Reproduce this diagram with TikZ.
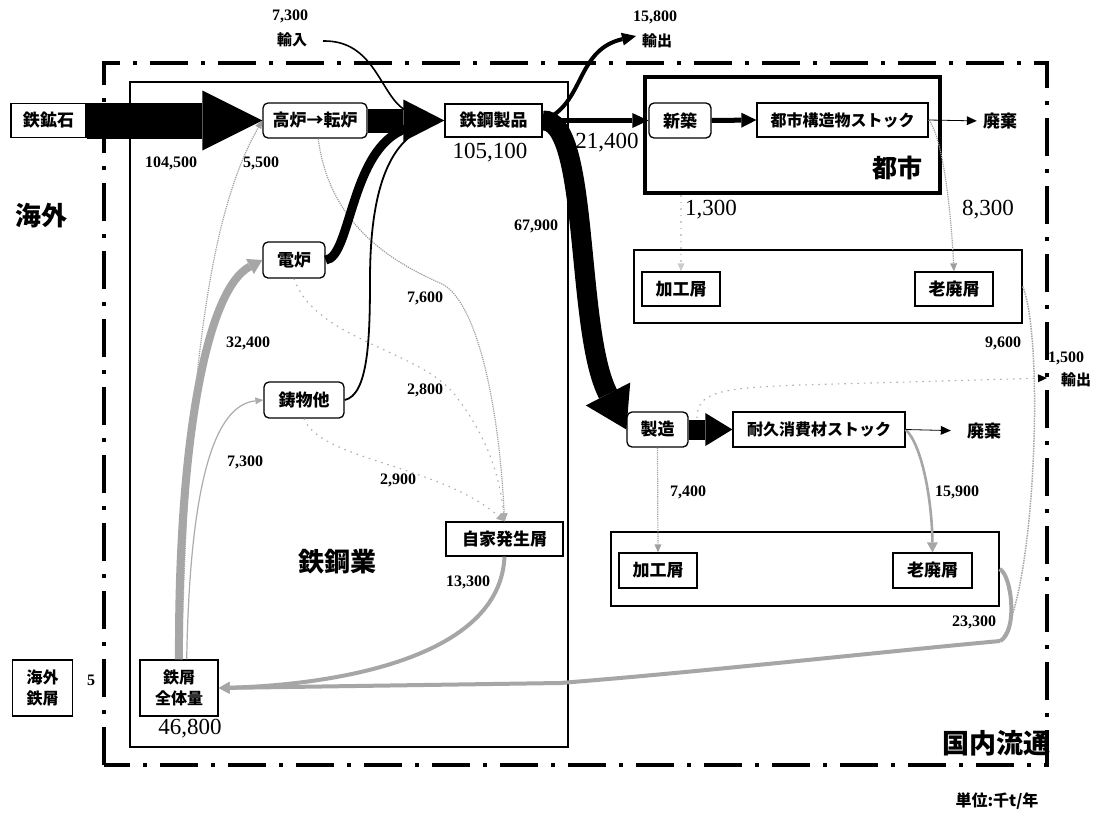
\documentclass[tikz,border=0pt]{standalone}
\usepackage{fontspec}
\setmainfont{Liberation Serif}
\newfontfamily\jp{Noto Sans CJK JP}
\usetikzlibrary{arrows.meta}
\begin{document}
\begin{tikzpicture}[x=1pt,y=-1pt,
  jpf/.style={font={\jp\bfseries\fontsize{#1}{#1}\selectfont}},
  box/.style={draw, line width=1.3pt, inner sep=0pt, jpf=17},
  rbox/.style={box, rounded corners=5pt},
  cont/.style={draw, line width=1.3pt, inner sep=0pt},
  num/.style={inner sep=0pt, font={\bfseries\fontsize{16}{16}\selectfont}},
  big/.style={inner sep=0pt, font={\fontsize{23}{23}\selectfont}},
  lbl/.style={inner sep=0pt, jpf=#1},
  blk/.style={draw=black, line width=#1},
  gband/.style={draw=gray!70, line width=8pt, -{Triangle[length=14pt,width=17pt,line width=0pt]}},
  gthick/.style={draw=gray!70, line width=4pt, -{Triangle[length=11pt,width=12pt,line width=0pt]}},
  gmid/.style={draw=gray!70, line width=2.6pt, -{Triangle[length=10pt,width=11pt,line width=0pt]}},
  gthin/.style={draw=gray!65, line width=1.2pt, -{Triangle[length=8pt,width=7pt,line width=0pt]}},
  gdot/.style={draw=gray!75, line width=1.2pt, densely dotted, -{Triangle[length=8pt,width=7pt,line width=0pt]}},
  gsparse/.style={draw=gray!65, line width=1.1pt, dash pattern=on 1.5pt off 5pt, -{Triangle[length=8pt,width=7pt,line width=0pt]}},
  frame/.style={draw=black, line width=4pt, dash pattern=on 38pt off 13pt on 4pt off 13pt}
]
\useasboundingbox (0,0) rectangle (1094,814);
\fill[white] (0,0) rectangle (1094,814);

% containers
\node[cont, minimum width=438, minimum height=665] (steel) at (349,414.5) {};
\node[draw, line width=4pt, inner sep=0pt, minimum width=295, minimum height=116] (toshi) at (792.5,135) {};
\node[cont, minimum width=388, minimum height=73] (uc) at (828,286.5) {};
\node[cont, minimum width=388, minimum height=74] (lc) at (805,569) {};

% boxes
\node[box, minimum width=75, minimum height=34] (ore) at (48.5,120.5) {鉄鉱石};
\node[rbox, minimum width=104, minimum height=35] (bf) at (315,120.5) {高炉→転炉};
\node[box, minimum width=97, minimum height=33] (sp) at (493.5,120.5) {鉄鋼製品};
\node[rbox, minimum width=62, minimum height=35] (sc) at (680,120.5) {新築};
\node[box, jpf=16, minimum width=171, minimum height=34] (us) at (842.5,120) {都市構造物ストック};
\node[box, minimum width=78, minimum height=34] (kku) at (681,289) {加工屑};
\node[box, minimum width=78, minimum height=34] (rou) at (954,289) {老廃屑};
\node[rbox, minimum width=62, minimum height=36] (ef) at (294,260) {電炉};
\node[rbox, minimum width=80, minimum height=36] (ci) at (304,400) {鋳物他};
\node[rbox, minimum width=61, minimum height=35] (mf) at (657.5,429.5) {製造};
\node[box, jpf=16, minimum width=172, minimum height=35] (dc) at (819,429.5) {耐久消費材ストック};
\node[box, minimum width=117, minimum height=34] (jika) at (504.5,539) {自家発生屑};
\node[box, minimum width=78, minimum height=35] (kkl) at (658,570.5) {加工屑};
\node[box, minimum width=79, minimum height=35] (rol) at (932.5,570.5) {老廃屑};
\node[box, minimum width=78, minimum height=56, align=center, font={\jp\bfseries\fontsize{16}{21}\selectfont}] (tie) at (179,688) {鉄屑\\全体量};
\node[box, minimum width=60, minimum height=56, align=center, font={\jp\bfseries\fontsize{16}{21}\selectfont}] (kss) at (42.5,688) {海外\\鉄屑};
\node[lbl=17] (haiki1) at (1000,121) {廃棄};
\node[lbl=17] (haiki2) at (984,431) {廃棄};

% labels
\node[num] (n7300a) at (290,16) {7,300};
\node[lbl=15] (imp) at (292,40) {輸入};
\node[num] (n15800) at (655,17) {15,800};
\node[lbl=15] (exp) at (657,41) {輸出};
\node[num] (n104500) at (171,163) {104,500};
\node[num] (n5500) at (261,163) {5,500};
\node[big] (n105100) at (490,153) {105,100};
\node[big] (n21400) at (607,143) {21,400};
\node[big] (n1300) at (711,210) {1,300};
\node[big] (n8300) at (988,210) {8,300};
\node[num] (n67900) at (536,226) {67,900};
\node[num] (n7600) at (425,298) {7,600};
\node[num] (n32400) at (248,343) {32,400};
\node[num] (n9600) at (1003,343) {9,600};
\node[num] (n1500) at (1066,358) {1,500};
\node[lbl=15] (exp2) at (1076,380) {輸出};
\node[num] (n2800) at (425,390) {2,800};
\node[num] (n7300b) at (245,462) {7,300};
\node[num] (n2900) at (398,480) {2,900};
\node[num] (n7400) at (688,492) {7,400};
\node[num] (n15900) at (957,492) {15,900};
\node[num] (n13300) at (468,582) {13,300};
\node[num] (n23300) at (974,622) {23,300};
\node[num] (n5) at (91,680) {5};
\node[big] (n46800) at (190,729) {46,800};
\node[lbl=26] (kaigai) at (41,216) {海外};
\node[lbl=26] (tekko) at (337,562) {鉄鋼業};
\node[lbl=25] (toshil) at (897,168) {都市};
\node[lbl=16] (unit) at (997,801) {単位:千t/年};
\node[lbl=27, anchor=east] (kokunai) at (1051,743) {国内流通};

% coordinates
\coordinate (imp0) at (323,41);
\coordinate (imp1) at (405,110);
\coordinate (exp1) at (636,36);
\coordinate (j1) at (412,127);
\coordinate (j2) at (418,131);
\coordinate (ex2s) at (697,418);
\coordinate (ex2e) at (1047,378);
\coordinate (merge) at (1000,641);
\coordinate (bend) at (560,683);

% gray flows
\draw[gdot] (tie.85) .. controls (188,400) and (205,220) .. (bf.west);
\draw[gthin] (tie.75) .. controls (190,480) and (215,405) .. (ci.west);
\draw[gband] (tie.north) .. controls (178,450) and (205,290) .. (ef.west);
\draw[gdot] (bf.-80) .. controls (330,230) and (400,265) .. (440,283) .. controls (480,300) and (500,420) .. (jika.north);
\draw[gsparse] (ef.south) .. controls (315,340) and (420,350) .. (455,395) .. controls (490,440) and (500,480) .. (jika.north);
\draw[gsparse] (ci.south) .. controls (320,460) and (440,465) .. (jika.north);
\draw[gthick] (jika.south) .. controls (500,660) and (330,685) .. (tie.east);
\draw[gdot] (us.east) .. controls (945,140) and (952,230) .. (rou.north);
\draw[gsparse, draw=gray!40] (toshi.south -| kku.north) -- (kku.north);
\draw[gdot] (mf.south) -- (kkl.north);
\draw[gmid] (dc.east) .. controls (922,445) and (932,500) .. (rol.north);
\draw[draw=gray!70, line width=1.5pt, densely dotted] (uc.east) .. controls (1045,340) and (1035,600) .. (merge);
\draw[draw=gray!70, line width=4pt] (lc.east) .. controls (1012,575) and (1018,632) .. (merge);
\draw[gthick] (merge) .. controls (880,652) and (700,672) .. (bend) -- (tie.east);
\draw[gsparse, -{Triangle[length=9pt,width=8pt,color=black,line width=0pt]}] (ex2s) .. controls (697,392) and (720,388) .. (800,385) -- (ex2e);

% black flows
\draw[blk=9pt] (ef.east) .. controls (352,258) and (350,140) .. (j1);
\draw[blk=1.8pt] (ci.east) .. controls (368,395) and (370,340) .. (370,280) .. controls (370,200) and (385,150) .. (j2);
\draw[blk=1.6pt] (imp0) .. controls (375,40) and (380,95) .. (imp1);
\draw[blk=36pt, -{Triangle[length=60pt,width=60pt,line width=0pt]}] (ore.east) -- (bf.west);
\draw[blk=24pt, -{Triangle[length=41pt,width=42pt,line width=0pt]}] (bf.east) -- (sp.west);
\draw[blk=4pt, -{Triangle[length=14pt,width=13pt,line width=0pt]}] (sp.east) .. controls (585,105) and (575,50) .. (exp1);
\draw[blk=5pt, -{Triangle[length=16pt,width=15pt,line width=0pt]}] (sp.east) -- (sc.west);
\draw[blk=20pt, -{Triangle[length=40pt,width=50pt,line width=0pt]}] (sp.east) .. controls (590,118) and (575,330) .. (mf.west);
\draw[blk=5pt, -{Triangle[length=15pt,width=15pt,line width=0pt]}] (sc.east) -- (us.west);
\draw[blk=20pt, -{Triangle[length=27pt,width=33pt,line width=0pt]}] (mf.east) -- (dc.west);
\draw[blk=0.8pt, -{Triangle[length=10pt,width=9pt,line width=0pt]}, shorten >=6pt] (us.east) -- (haiki1.west);
\draw[blk=0.8pt, -{Triangle[length=10pt,width=9pt,line width=0pt]}, shorten >=16pt] (dc.east) -- (haiki2.west);

% outer frame
\draw[frame] (104,765) -- (104,63) -- (1047,63) -- (1047,765) -- cycle;
\end{tikzpicture}
\end{document}
